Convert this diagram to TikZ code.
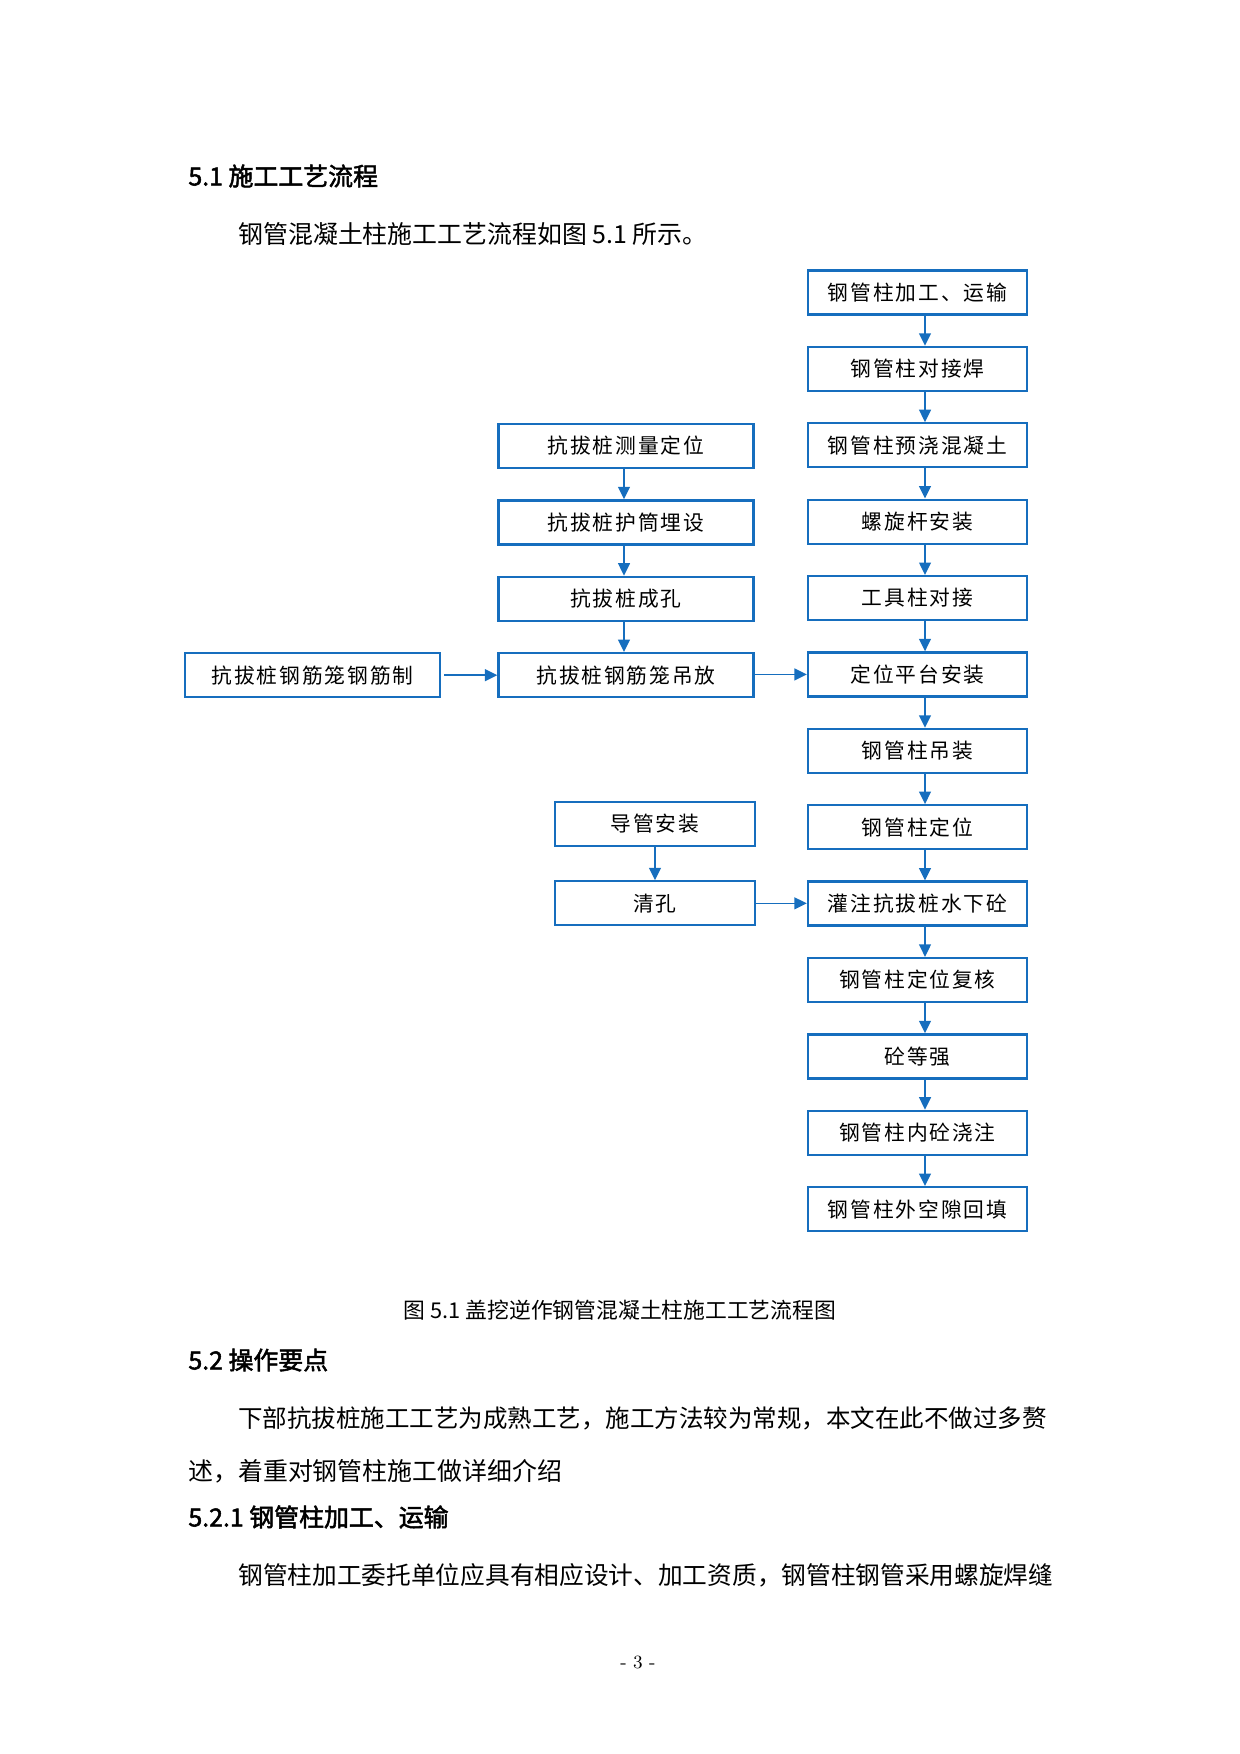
\documentclass[tikz,border=0pt]{standalone}
\usepackage{fontspec}
\newfontfamily\cjk{Noto Sans CJK SC}
\newfontfamily\cjkbf[FakeBold=2]{Noto Sans CJK SC}
\newfontfamily\boxcjk[LetterSpace=9]{Noto Sans CJK SC}
\usetikzlibrary{arrows.meta, positioning}
\definecolor{flowblue}{RGB}{22,110,190}

\begin{document}
\begin{tikzpicture}[
    x=0.16935mm, y=-0.16935mm,
    box/.style={draw=flowblue, line width=1.1pt, minimum height=7.45mm, inner sep=0pt, font=\boxcjk\fontsize{10}{12}\selectfont},
    rbox/.style={box, minimum width=37.1mm},
    lbox/.style={box, minimum width=43.2mm},
    sbox/.style={box, minimum width=33.9mm},
    head/.style={anchor=west, inner sep=0pt, font=\cjkbf\fontsize{12}{14}\selectfont},
    body/.style={anchor=west, inner sep=0pt, font=\cjk\fontsize{12}{14}\selectfont},
    captxt/.style={inner sep=0pt, font=\cjk\fontsize{10.5}{12}\selectfont},
    arr/.style={-{Triangle[length=2.1mm, width=2mm]}, draw=flowblue, line width=0.75pt},
    node distance=5.1mm and 9.5mm,
]
\useasboundingbox (0,0) rectangle (1240,1754);
\node[head] (h1) at (188,176) {5.1 施工工艺流程};
\node[body] (p1) at (238,234) {钢管混凝土柱施工工艺流程如图 5.1 所示。};
\node[rbox] (r1) at (917.5,292.5) {钢管柱加工、运输};
\node[rbox, below=of r1] (r2) {钢管柱对接焊};
\node[rbox, below=of r2] (r3) {钢管柱预浇混凝土};
\node[rbox, below=of r3] (r4) {螺旋杆安装};
\node[rbox, below=of r4] (r5) {工具柱对接};
\node[rbox, below=of r5] (r6) {定位平台安装};
\node[rbox, below=of r6] (r7) {钢管柱吊装};
\node[rbox, below=of r7] (r8) {钢管柱定位};
\node[rbox, below=of r8] (r9) {灌注抗拔桩水下砼};
\node[rbox, below=of r9] (r10) {钢管柱定位复核};
\node[rbox, below=of r10] (r11) {砼等强};
\node[rbox, below=of r11] (r12) {钢管柱内砼浇注};
\node[rbox, below=of r12] (r13) {钢管柱外空隙回填};
\node[lbox] (l1) at (626,446) {抗拔桩测量定位};
\node[lbox, below=of l1] (l2) {抗拔桩护筒埋设};
\node[lbox, below=of l2] (l3) {抗拔桩成孔};
\node[lbox, below=of l3] (l4) {抗拔桩钢筋笼吊放};
\node[lbox, left=of l4] (cage) {抗拔桩钢筋笼钢筋制};
\node[sbox] (g1) at (655,824) {导管安装};
\node[sbox, below=5.6mm of g1] (g2) {清孔};
\coordinate (rax) at (925,0);
\coordinate (lax) at (624,0);
\draw[arr] (r1.south -| rax) -- (r2.north -| rax);
\draw[arr] (r2.south -| rax) -- (r3.north -| rax);
\draw[arr] (r3.south -| rax) -- (r4.north -| rax);
\draw[arr] (r4.south -| rax) -- (r5.north -| rax);
\draw[arr] (r5.south -| rax) -- (r6.north -| rax);
\draw[arr] (r6.south -| rax) -- (r7.north -| rax);
\draw[arr] (r7.south -| rax) -- (r8.north -| rax);
\draw[arr] (r8.south -| rax) -- (r9.north -| rax);
\draw[arr] (r9.south -| rax) -- (r10.north -| rax);
\draw[arr] (r10.south -| rax) -- (r11.north -| rax);
\draw[arr] (r11.south -| rax) -- (r12.north -| rax);
\draw[arr] (r12.south -| rax) -- (r13.north -| rax);
\draw[arr] (l1.south -| lax) -- (l2.north -| lax);
\draw[arr] (l2.south -| lax) -- (l3.north -| lax);
\draw[arr] (l3.south -| lax) -- (l4.north -| lax);
\draw[arr, shorten <=0.5mm] (cage) -- (l4);
\draw[arr] (l4.east |- r6.west) -- (r6.west);
\draw[arr] (g1) -- (g2);
\draw[arr] (g2) -- (g2 -| r9.west);
\node[captxt] (caption) at (620,1310) {图 5.1 盖挖逆作钢管混凝土柱施工工艺流程图};
\node[head] (h2) at (188,1360) {5.2 操作要点};
\node[body, font=\cjk\fontsize{11.8}{14}\selectfont] (p2) at (238,1418) {下部抗拔桩施工工艺为成熟工艺，施工方法较为常规，本文在此不做过多赘};
\node[body] (p3) at (188,1471) {述，着重对钢管柱施工做详细介绍};
\node[head] (h3) at (188,1517) {5.2.1 钢管柱加工、运输};
\node[body, font=\cjk\fontsize{11.9}{14}\selectfont] (p4) at (238,1575) {钢管柱加工委托单位应具有相应设计、加工资质，钢管柱钢管采用螺旋焊缝};
\node[inner sep=0pt, font=\fontsize{9}{10}\selectfont] (pg) at (638,1662) {- 3 -};
\end{tikzpicture}
\end{document}
